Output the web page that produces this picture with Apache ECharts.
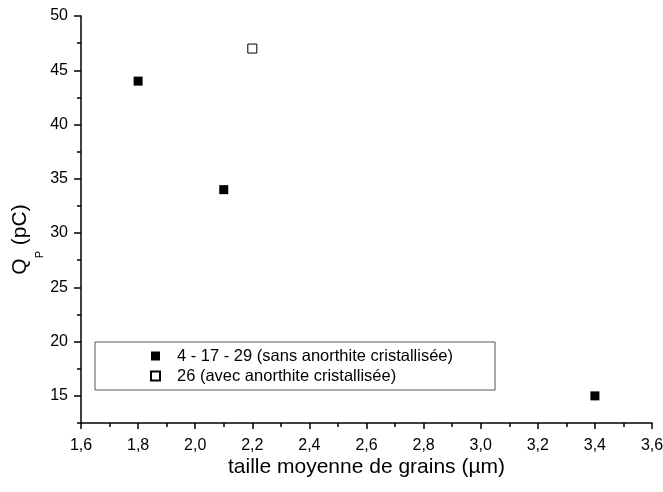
<!DOCTYPE html>
<html>
<head>
<meta charset="utf-8">
<script src="https://cdn.jsdelivr.net/npm/echarts@6/dist/echarts.min.js"></script>
<style>
html,body{margin:0;padding:0;background:#fff;}
#c{width:663px;height:492px;}
</style>
</head>
<body>
<div id="c"></div>
<script>
// Data
const seriesNames = ['4 - 17 - 29 (sans anorthite cristallisée)', '26 (avec anorthite cristallisée)'];
const sansX = [1.8, 2.1, 3.4];
const sansY = [44, 34, 15];
const avecX = [2.2];
const avecY = [47];
const yMajorTicks = [15, 20, 25, 30, 35, 40, 45, 50];
const yMinorTicks = [12.5, 17.5, 22.5, 27.5, 32.5, 37.5, 42.5, 47.5];

const FONT = '"Liberation Sans", Arial, sans-serif';
const chart = echarts.init(document.getElementById('c'));
const axisLine = {show: true, onZero: false, lineStyle: {color: '#000', width: 1.5}};

chart.setOption({
  backgroundColor: '#fff',
  animation: false,
  textStyle: {fontFamily: FONT},
  grid: {left: 81, right: 11, top: 16, bottom: 69, containLabel: false, outerBoundsMode: 'none'},
  legend: {
    orient: 'vertical',
    left: 95, top: 342,
    padding: [5, 42, 5, 55],
    itemGap: 2,
    itemWidth: 9, itemHeight: 9,
    borderColor: '#555', borderWidth: 1, borderRadius: 0,
    textStyle: {fontSize: 16.5, color: '#000', fontFamily: FONT, lineHeight: 18, padding: [0, 0, 0, 12]},
    data: seriesNames
  },
  xAxis: {
    type: 'value', min: 1.6, max: 3.6, interval: 0.2,
    name: 'taille moyenne de grains (µm)', nameLocation: 'middle', nameGap: 34,
    nameMoveOverlap: false,
    nameTextStyle: {fontSize: 21, color: '#000', fontFamily: FONT},
    axisLine: axisLine,
    axisTick: {show: true, inside: false, length: 6, lineStyle: {color: '#000', width: 1.5}},
    minorTick: {show: true, splitNumber: 2, length: 4, lineStyle: {color: '#000', width: 1.5}},
    splitLine: {show: false},
    axisLabel: {fontSize: 16, color: '#000', margin: 15, fontFamily: FONT,
      formatter: v => v.toFixed(1).replace('.', ',')}
  },
  yAxis: [{
    type: 'value', min: 12.5, max: 50,
    name: '{q|Q}{s|P}{q| (pC)}', nameLocation: 'middle', nameGap: 47, nameRotate: 90,
    nameMoveOverlap: false,
    nameTextStyle: {fontSize: 21, color: '#000', fontFamily: FONT, padding: [0, 40, 0, 0],
      rich: {q: {fontSize: 21, fontFamily: FONT, color: '#000', verticalAlign: 'top', lineHeight: 24},
             s: {fontSize: 11, fontFamily: FONT, color: '#000', verticalAlign: 'top', lineHeight: 12, padding: [24, 0, 0, 0]}}},
    axisLine: axisLine,
    axisTick: {show: true, inside: false, length: 7, customValues: yMajorTicks, lineStyle: {color: '#000', width: 1.5}},
    splitLine: {show: false},
    axisLabel: {fontSize: 16, color: '#000', margin: 13, fontFamily: FONT, customValues: yMajorTicks,
      formatter: v => String(Math.round(v))}
  }, {
    type: 'value', min: 12.5, max: 50, position: 'left', offset: 0,
    axisLine: {show: false},
    axisTick: {show: true, inside: false, length: 4, customValues: yMinorTicks, lineStyle: {color: '#000', width: 1.5}},
    splitLine: {show: false},
    axisLabel: {show: false}
  }],
  series: [{
    name: seriesNames[0], type: 'scatter', symbol: 'rect', symbolSize: 9,
    itemStyle: {color: '#000', opacity: 1},
    data: sansX.map((x, i) => [x, sansY[i]])
  }, {
    name: seriesNames[1], type: 'scatter', symbol: 'rect', symbolSize: 9,
    itemStyle: {color: '#fff', borderColor: '#000', borderWidth: 1, opacity: 1},
    data: avecX.map((x, i) => [x, avecY[i]])
  }]
});
</script>
</body>
</html>
